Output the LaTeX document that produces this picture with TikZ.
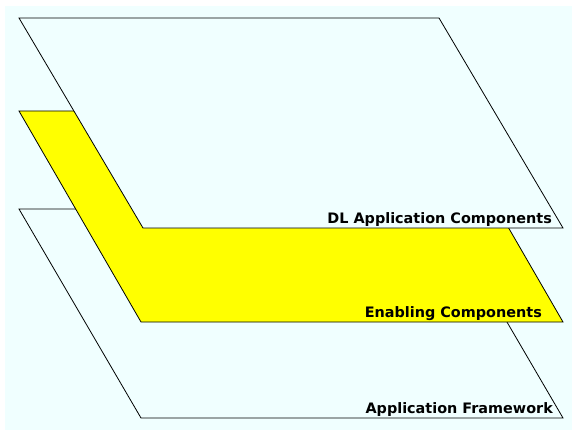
\documentclass[tikz,border=0pt]{standalone}
\usepackage{fontspec}
\setmainfont{DejaVu Sans}
\definecolor{bgcyan}{HTML}{F0FFFF}
\definecolor{layeryellow}{HTML}{FFFF00}
\begin{document}
\begin{tikzpicture}[x=1pt,y=-1pt,
  layer/.style={draw=black,line width=0.8pt,line join=miter},
  label/.style={anchor=base east,inner sep=0pt,font=\fontsize{14.4}{17}\selectfont\bfseries}]
  % canvas
  \useasboundingbox (0,0) rectangle (572,430);
  \fill[white] (0,0) rectangle (572,430);
  \fill[bgcyan] (5,6) rectangle (572,430);
  % bottom layer
  \draw[layer,fill=bgcyan] (19,209) -- (441,209) -- (563,418) -- (141,418) -- cycle;
  \coordinate (fw) at (553,413);
  \node[label] (fwlabel) at (fw) {Application Framework};
  % middle layer
  \draw[layer,fill=layeryellow] (19,111) -- (441,111) -- (563,322) -- (141,322) -- cycle;
  \coordinate (en) at (542,317);
  \node[label] (enlabel) at (en) {Enabling Components};
  % top layer
  \draw[layer,fill=bgcyan] (19,18) -- (439,18) -- (563,228) -- (143,228) -- cycle;
  \coordinate (dl) at (552,223);
  \node[label] (dllabel) at (dl) {DL Application Components};
\end{tikzpicture}
\end{document}
